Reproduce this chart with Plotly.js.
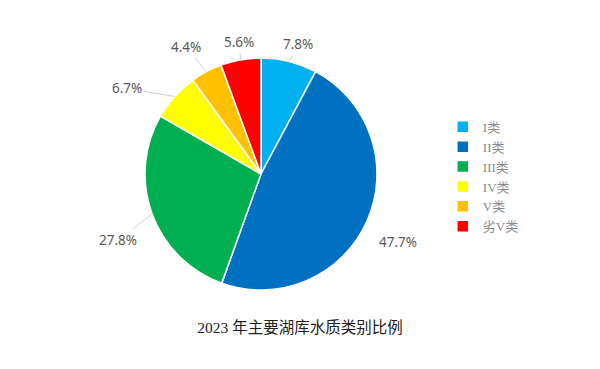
<!DOCTYPE html>
<html>
<head>
<meta charset="utf-8">
<script src="https://cdn.plot.ly/plotly-3.0.1.min.js"></script>
<style>html,body{margin:0;padding:0;background:#fff;}#chart{width:600px;height:369px;}</style>
</head>
<body>
<div id="chart"></div>
<script>
// Data
const categories = ['I类', 'II类', 'III类', 'IV类', 'V类', '劣V类'];
const shares = [7.8, 47.7, 27.8, 6.7, 4.4, 5.6];
const colors = ['#00b0f0', '#0070c0', '#00b050', '#ffff00', '#ffc000', '#ff0000'];
const chartTitle = '2023 年主要湖库水质类别比例';

// Layout settings
const W = 600, H = 369;
const pieDomain = {x: [0.2417, 0.6283], y: [0.2141, 0.8428]};
// label placement offsets (px) relative to slice edge midpoint
const labelOffsets = [[9, -17], [31, 21], [-34, 26], [-48, -8], [-20, -25], [-2, -18]];

const cx = W * (pieDomain.x[0] + pieDomain.x[1]) / 2;
const cy = H * (1 - (pieDomain.y[0] + pieDomain.y[1]) / 2);
const R = Math.min(W * (pieDomain.x[1] - pieDomain.x[0]), H * (pieDomain.y[1] - pieDomain.y[0])) / 2;
const total = shares.reduce((a, b) => a + b, 0);

const annotations = [];
let cum = 0;
shares.forEach((v, i) => {
  const mid = (cum + v / 2) / total * 2 * Math.PI;
  cum += v;
  const px = cx + R * Math.sin(mid);
  const py = cy - R * Math.cos(mid);
  annotations.push({
    xref: 'paper', yref: 'paper',
    x: px / W, y: 1 - py / H,
    ax: labelOffsets[i][0], ay: labelOffsets[i][1],
    text: v.toFixed(1) + '%',
    showarrow: true, arrowhead: 0, arrowwidth: 1, arrowcolor: '#d0d0d0',
    standoff: 0, startstandoff: 1,
    font: {family: 'Noto Sans, sans-serif', size: 13.5, color: '#595959'}
  });
});

const trace = {
  type: 'pie',
  labels: categories,
  values: shares,
  sort: false,
  direction: 'clockwise',
  rotation: 0,
  textinfo: 'none',
  hoverinfo: 'label+percent',
  marker: {colors: colors, line: {color: '#ffffff', width: 1.5}},
  domain: pieDomain
};

const layout = {
  width: W, height: H,
  margin: {l: 0, r: 0, t: 0, b: 0},
  paper_bgcolor: '#ffffff',
  showlegend: true,
  legend: {
    x: 0.738, y: 0.697, xanchor: 'left', yanchor: 'top',
    font: {family: 'Liberation Serif, Noto Sans CJK SC, serif', size: 13, color: '#8a8a8a'},
    itemwidth: 30, tracegroupgap: 0
  },
  title: {
    text: chartTitle,
    x: 0.5, xanchor: 'center', y: 0.113, yanchor: 'middle',
    font: {family: 'Liberation Serif, Noto Sans CJK SC, serif', size: 15.5, color: '#222222'}
  },
  annotations: annotations
};

Plotly.newPlot('chart', [trace], layout, {displayModeBar: false, staticPlot: true});
</script>
</body>
</html>
